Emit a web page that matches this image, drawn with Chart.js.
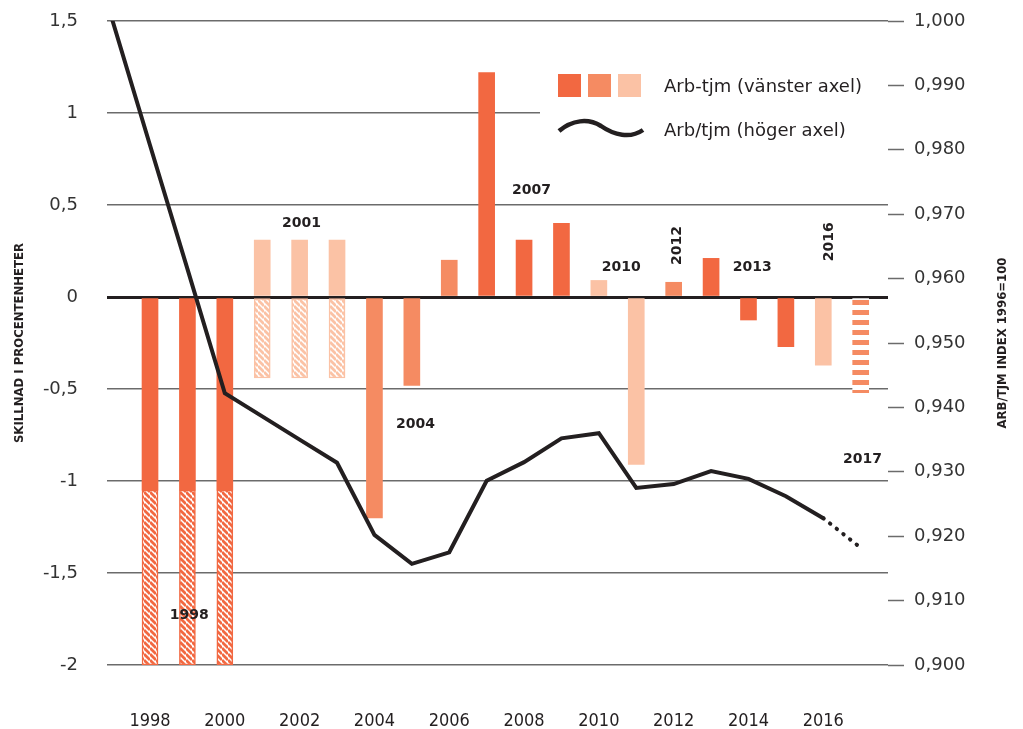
<!DOCTYPE html>
<html lang="sv">
<head>
<meta charset="utf-8">
<title>Arb-tjm och Arb/tjm</title>
<script src="https://cdn.jsdelivr.net/npm/chart.js@4/dist/chart.umd.min.js"></script>
<style>
  html, body { margin: 0; padding: 0; background: #fff; }
</style>
</head>
<body>
<canvas id="chart" width="1023" height="729"></canvas>
<script>
// Bars: difference in percentage units (left axis)
const barYears = [1998, 1999, 2000, 2001, 2002, 2003, 2004, 2005, 2006, 2007,
                  2008, 2009, 2010, 2011, 2012, 2013, 2014, 2015, 2016];
const barValues = [-1.05, -1.05, -1.05, 0.31, 0.31, 0.31, -1.20, -0.48, 0.20, 1.22,
                   0.31, 0.40, 0.09, -0.91, 0.08, 0.21, -0.125, -0.27, -0.37];
const barShades = ['dark', 'dark', 'dark', 'light', 'light', 'light', 'medium', 'medium', 'medium', 'dark',
                   'dark', 'dark', 'light', 'light', 'medium', 'dark', 'dark', 'dark', 'light'];

// Hatched parts of bars (floating from..to)
const hatchYears = [1998, 1999, 2000, 2001, 2002, 2003];
const hatchFrom = [-1.05, -1.05, -1.05, 0, 0, 0];
const hatchTo = [-2, -2, -2, -0.44, -0.44, -0.44];
const hatchShades = ['dark', 'dark', 'dark', 'light', 'light', 'light'];

// Forecast bar (striped)
const forecastYears = [2017];
const forecastValues = [-0.52];

// Line: Arb/tjm index (right axis)
const lineYears = [1997, 1998, 1999, 2000, 2001, 2002, 2003, 2004, 2005, 2006, 2007,
                   2008, 2009, 2010, 2011, 2012, 2013, 2014, 2015, 2016, 2017];
const lineValues = [1.000, 0.9807, 0.9615, 0.9422, 0.9386, 0.9350, 0.9314, 0.9202, 0.9157, 0.9175, 0.9286,
                    0.9315, 0.9352, 0.9360, 0.9275, 0.9281, 0.9301, 0.9289, 0.9262, 0.9228, 0.9182];

const xTickYears = [1998, 2000, 2002, 2004, 2006, 2008, 2010, 2012, 2014, 2016];

// Year notes inside the plot
const noteTexts = ['1998', '2001', '2004', '2007', '2010', '2012', '2013', '2016', '2017'];
const noteYears = [1999.05, 2002.05, 2005.1, 2008.2, 2010.6, 2012.1, 2014.1, 2016.15, 2017.05];
const noteValues = [-1.73, 0.40, -0.69, 0.58, 0.16, 0.28, 0.16, 0.30, -0.885];
const noteRotated = [false, false, false, false, false, true, false, true, false];

const shadeColors = { dark: '#f26841', medium: '#f58b62', light: '#fbc2a5' };
const ink = '#231f20';
const gridGray = 'rgba(0,0,0,0.58)';
const tickFont = { family: 'DejaVu Sans', size: 18 };
const condensed = 'DejaVu Sans Condensed, Liberation Sans Narrow, sans-serif';

function diagPattern(color) {
    const c = document.createElement('canvas');
    c.width = 6; c.height = 6;
    const g = c.getContext('2d');
    g.fillStyle = '#fff';
    g.fillRect(0, 0, 6, 6);
    g.strokeStyle = color;
    g.lineWidth = 2.8;
    g.beginPath();
    [-6, 0, 6].forEach(k => { g.moveTo(0, k); g.lineTo(6, 6 + k); });
    g.stroke();
    return g.createPattern(c, 'repeat');
}

function stripePattern(color) {
    const c = document.createElement('canvas');
    c.width = 4; c.height = 10;
    const g = c.getContext('2d');
    g.fillStyle = '#fff';
    g.fillRect(0, 0, 4, 10);
    g.fillStyle = color;
    g.fillRect(0, 0, 4, 5);
    return g.createPattern(c, 'repeat');
}

// y axes: keep the plot edges where the reference has them
function noTickPadding(s) {
    s.paddingTop = 0;
    s.paddingBottom = 0;
}

// Legend, right title and notes
const overlay = {
    id: 'overlay',
    afterDraw(chart) {
        const ctx = chart.ctx;
        const x = chart.scales.x, y = chart.scales.y;
        ctx.save();

        // notes
        ctx.fillStyle = ink;
        ctx.font = 'bold 14px DejaVu Sans';
        ctx.textAlign = 'center';
        ctx.textBaseline = 'middle';
        noteTexts.forEach((t, i) => {
            const px = x.getPixelForValue(noteYears[i]);
            const py = y.getPixelForValue(noteValues[i]);
            ctx.save();
            ctx.translate(px, py);
            if (noteRotated[i]) ctx.rotate(-Math.PI / 2);
            ctx.fillText(t, 0, 0);
            ctx.restore();
        });

        // legend box
        ctx.fillStyle = '#fff';
        ctx.fillRect(540, 60, chart.chartArea.right - 540, 100);
        ['dark', 'medium', 'light'].forEach((s, i) => {
            ctx.fillStyle = shadeColors[s];
            ctx.fillRect(558 + i * 30, 74, 23, 23);
        });
        ctx.strokeStyle = ink;
        ctx.lineWidth = 4.5;
        ctx.lineCap = 'butt';
        ctx.beginPath();
        ctx.moveTo(559, 131);
        ctx.bezierCurveTo(572, 120, 588, 118, 601, 126);
        ctx.bezierCurveTo(614, 135, 630, 139, 643, 130);
        ctx.stroke();
        ctx.fillStyle = ink;
        ctx.font = '18px DejaVu Sans';
        ctx.textAlign = 'left';
        ctx.fillText('Arb-tjm (vänster axel)', 664, 87);
        ctx.fillText('Arb/tjm (höger axel)', 664, 131);

        // right axis title, reading upwards
        ctx.font = 'bold 13px ' + condensed;
        ctx.textAlign = 'center';
        ctx.translate(1003, (chart.chartArea.top + chart.chartArea.bottom) / 2);
        ctx.rotate(-Math.PI / 2);
        ctx.fillText('ARB/TJM INDEX 1996=100', 0, 0);
        ctx.restore();
    }
};

const ctx = document.getElementById('chart').getContext('2d');
const chart = new Chart(ctx, {
    data: {
        datasets: [
            {
                type: 'line',
                label: 'Arb/tjm (höger axel)',
                data: lineYears.map((yr, i) => ({ x: yr, y: lineValues[i] })),
                yAxisID: 'y1',
                borderColor: ink,
                borderWidth: 4,
                borderCapStyle: 'round',
                pointRadius: 0,
                tension: 0,
                order: 0,
                segment: {
                    borderDash: c => c.p1DataIndex === lineYears.length - 1 ? [0.5, 8] : undefined
                }
            },
            {
                type: 'bar',
                label: 'Arb-tjm (vänster axel)',
                data: barYears.map((yr, i) => ({ x: yr, y: barValues[i] })),
                yAxisID: 'y',
                backgroundColor: barShades.map(s => shadeColors[s]),
                barThickness: 16,
                grouped: false,
                order: 1
            },
            {
                type: 'bar',
                label: 'hatched',
                data: hatchYears.map((yr, i) => ({ x: yr, y: [hatchFrom[i], hatchTo[i]] })),
                yAxisID: 'y',
                backgroundColor: hatchShades.map(s => diagPattern(shadeColors[s])),
                borderColor: hatchShades.map(s => shadeColors[s]),
                borderWidth: 1.5,
                borderSkipped: false,
                barThickness: 16,
                grouped: false,
                order: 1
            },
            {
                type: 'bar',
                label: 'forecast',
                data: forecastYears.map((yr, i) => ({ x: yr, y: forecastValues[i] })),
                yAxisID: 'y',
                backgroundColor: stripePattern(shadeColors.medium),
                barThickness: 16,
                grouped: false,
                order: 1
            }
        ]
    },
    options: {
        responsive: false,
        animation: false,
        layout: { padding: { top: 21 } },
        plugins: {
            legend: { display: false },
            tooltip: { enabled: false }
        },
        scales: {
            x: {
                type: 'linear',
                offset: false,
                min: 1996.85,
                max: 2017.73,
                grid: { display: false },
                border: { display: false },
                afterBuildTicks: s => { s.ticks = xTickYears.map(v => ({ value: v })); },
                afterFit: s => { s.height = 64; },
                ticks: {
                    callback: v => String(v),
                    autoSkip: false,
                    maxRotation: 0,
                    padding: 38,
                    color: ink,
                    font: { family: condensed, size: 18 }
                }
            },
            y: {
                position: 'left',
                min: -2,
                max: 1.5,
                z: 1,
                afterFit: s => { s.width = 107; noTickPadding(s); },
                border: { display: false },
                grid: {
                    drawTicks: false,
                    color: c => c.tick && c.tick.value === 0 ? ink : gridGray,
                    lineWidth: c => c.tick && c.tick.value === 0 ? 3 : 1.5
                },
                ticks: {
                    stepSize: 0.5,
                    padding: 29,
                    color: '#333',
                    font: tickFont,
                    callback: v => String(v).replace('.', ',')
                },
                title: {
                    display: true,
                    text: 'SKILLNAD I PROCENTENHETER',
                    color: ink,
                    font: { family: condensed, size: 13, weight: 'bold' },
                    padding: { top: 12, bottom: 0 }
                }
            },
            y1: {
                position: 'right',
                min: 0.9,
                max: 1.0,
                afterFit: s => { s.width = 135; noTickPadding(s); },
                border: { display: false },
                grid: {
                    drawOnChartArea: false,
                    drawTicks: true,
                    tickLength: 16,
                    tickColor: gridGray,
                    tickWidth: 1.5
                },
                ticks: {
                    stepSize: 0.01,
                    padding: 10,
                    color: '#333',
                    font: tickFont,
                    callback: v => v.toFixed(3).replace('.', ',')
                }
            }
        }
    },
    plugins: [overlay]
});
</script>
</body>
</html>
